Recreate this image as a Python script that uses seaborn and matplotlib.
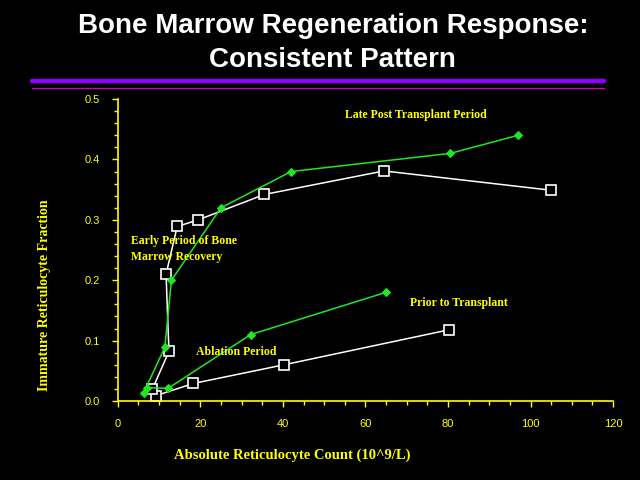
import seaborn as sns
import matplotlib.pyplot as plt
import pandas as pd

# values, in time order (prior -> ablation -> early -> late)
green_x = [65, 32.2, 12.2, 7.0, 6.3, 11.4, 13.0, 25.0, 42.0, 80.5, 97.0]
green_y = [0.18, 0.11, 0.021, 0.022, 0.014, 0.089, 0.20, 0.32, 0.38, 0.41, 0.44]
white_x = [80.3, 40.3, 18.3, 9.3, 8.4, 12.4, 11.7, 14.4, 19.5, 35.5, 64.5, 105.0]
white_y = [0.118, 0.060, 0.029, 0.009, 0.020, 0.082, 0.21, 0.289, 0.30, 0.342, 0.381, 0.349]

x_ticks = [0, 20, 40, 60, 80, 100, 120]
y_ticks = [0.0, 0.1, 0.2, 0.3, 0.4, 0.5]

labels = {
    'Late Post Transplant Period': (55, 0.4735),
    'Early Period of Bone': (3.2, 0.265),
    'Marrow Recovery': (3.2, 0.238),
    'Ablation Period': (18.9, 0.081),
    'Prior to Transplant': (70.8, 0.162),
}

df_g = pd.DataFrame({'x': green_x, 'y': green_y})
df_w = pd.DataFrame({'x': white_x, 'y': white_y})

sns.set_style("dark", {'axes.facecolor': 'black', 'figure.facecolor': 'black'})
yellow = '#ffff00'
green = '#22e622'

fig = plt.figure(figsize=(6.4, 4.8), dpi=100)
fig.patch.set_facecolor('black')
ax = fig.add_axes([0.184, 0.1646, 0.774, 0.629])
ax.set_facecolor('black')

sns.lineplot(data=df_w, x='x', y='y', sort=False, estimator=None, ax=ax,
             color='white', lw=1.1, marker='s', ms=6.5, mfc='black', mec='white', mew=1.2)
sns.lineplot(data=df_g, x='x', y='y', sort=False, estimator=None, ax=ax,
             color=green, lw=1.1, marker='D', ms=4.5, mfc=green, mec=green)

ax.set_xlim(0, 120)
ax.set_ylim(0, 0.5)
ax.set_xticks(x_ticks)
ax.set_yticks(y_ticks)
ax.set_yticklabels([f'{v:.1f}' for v in y_ticks])
ax.set_xticks(range(0, 121, 5), minor=True)
ax.set_yticks([i * 0.02 for i in range(26)], minor=True)
ax.grid(False)
for s in ['top', 'right']:
    ax.spines[s].set_visible(False)
for s in ['left', 'bottom']:
    ax.spines[s].set_color(yellow)
    ax.spines[s].set_linewidth(1.2)
ax.tick_params(which='both', colors=yellow, direction='out', width=1, left=True, bottom=True)
ax.tick_params(which='major', length=4, labelsize=8, pad=9)
ax.tick_params(which='minor', length=3)
for t in ax.get_xticklabels() + ax.get_yticklabels():
    t.set_family('Liberation Sans')

serif = dict(family='Liberation Serif', weight='bold', color=yellow)
ax.set_xlabel('Absolute Reticulocyte Count (10^9/L)', fontsize=10.5, **serif)
ax.set_ylabel('Immature Reticulocyte Fraction', fontsize=10, **serif)
ax.xaxis.set_label_coords(0.352, -0.156)
ax.yaxis.set_label_coords(-0.135, 0.35)
for txt, (tx, ty) in labels.items():
    ax.text(tx, ty, txt, fontsize=8.5, va='center', ha='left', **serif)

fig.text(0.52, 0.946, 'Bone Marrow Regeneration Response:', ha='center', va='center',
         color='white', fontsize=20, weight='bold', family='Liberation Sans')
fig.text(0.52, 0.874, 'Consistent Pattern', ha='center', va='center',
         color='white', fontsize=20, weight='bold', family='Liberation Sans')
fig.add_artist(plt.Line2D([0.05, 0.943], [1 - 81 / 480] * 2, color='#8f00ff', lw=3.2))
fig.add_artist(plt.Line2D([0.05, 0.943], [1 - 87.5 / 480] * 2, color='#cc00cc', lw=0.9))

fig.savefig('out.png', dpi=100, facecolor='black')
